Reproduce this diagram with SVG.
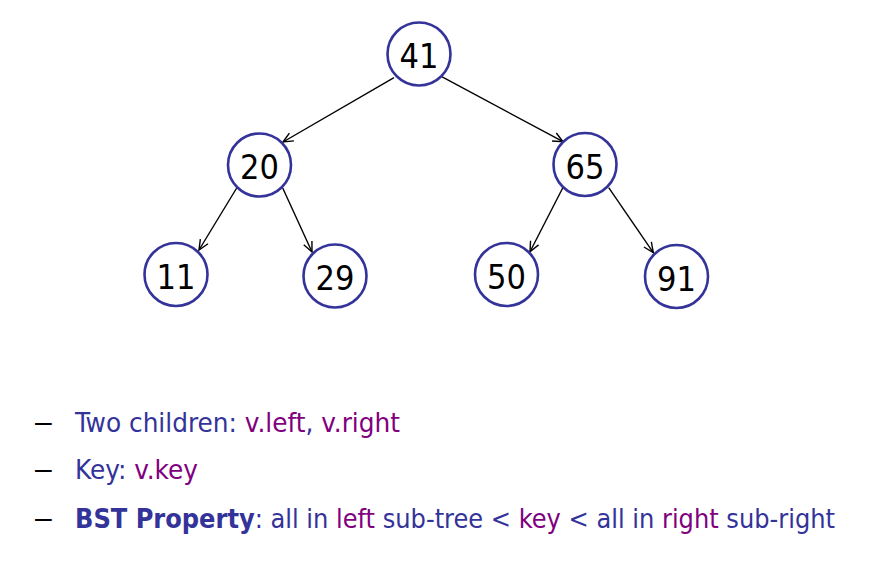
<svg xmlns="http://www.w3.org/2000/svg" width="875" height="562" viewBox="0 0 875 562">
<style>
.node circle{fill:#fff;stroke:#333399;stroke-width:2.6}
.node text{font-family:"DejaVu Sans Condensed","DejaVu Sans",sans-serif;font-stretch:condensed;font-size:34px;fill:#000;text-anchor:middle}
.edge{stroke:#000;stroke-width:1.4;fill:none;marker-end:url(#arr)}
.t{font-family:"DejaVu Sans Condensed","DejaVu Sans",sans-serif;font-stretch:condensed;font-size:27px;fill:#333399}
.p{fill:#800080}
.d{font-family:"Liberation Sans",Arial,sans-serif;font-size:30px;fill:#000}
</style>
<defs>
<marker id="arr" markerUnits="userSpaceOnUse" markerWidth="12" markerHeight="12" viewBox="0 0 12 12" refX="11" refY="6" orient="auto">
<path d="M1,1.5 L11,6 L1,10.5" fill="none" stroke="#000" stroke-width="1.4"/>
</marker>
</defs>
<g id="connectors">
<line class="edge" x1="394" y1="77.7" x2="283" y2="142"/>
<line class="edge" x1="441.7" y1="76.7" x2="563" y2="141.7"/>
<line class="edge" x1="236.7" y1="188" x2="199" y2="250"/>
<line class="edge" x1="282.7" y1="188" x2="312" y2="252"/>
<line class="edge" x1="562.7" y1="188" x2="530" y2="251.7"/>
<line class="edge" x1="608.7" y1="187.7" x2="653.3" y2="252.7"/>
</g>
<g id="n41" class="node"><circle cx="419" cy="54" r="31.5"/><text x="419" y="68">41</text></g>
<g id="n20" class="node"><circle cx="259.5" cy="165" r="31.5"/><text x="259.5" y="179">20</text></g>
<g id="n65" class="node"><circle cx="585" cy="164.5" r="31.5"/><text x="585" y="178.5">65</text></g>
<g id="n11" class="node"><circle cx="176" cy="274.5" r="31.5"/><text x="176" y="288.5">11</text></g>
<g id="n29" class="node"><circle cx="335" cy="276" r="31.5"/><text x="335" y="290">29</text></g>
<g id="n50" class="node"><circle cx="506.5" cy="274.5" r="31.5"/><text x="506.5" y="288.5">50</text></g>
<g id="n91" class="node"><circle cx="676.5" cy="276.5" r="31.5"/><text x="676.5" y="290.5">91</text></g>
<g id="notes">
<text class="d" x="35" y="431.7">–</text>
<text class="d" x="35" y="479.3">–</text>
<text class="d" x="35" y="528.3">–</text>
<text class="t" x="75" y="431.7" textLength="325" lengthAdjust="spacingAndGlyphs">Two children: <tspan class="p">v.left</tspan>, <tspan class="p">v.right</tspan></text>
<text class="t" x="75" y="479.3" textLength="123" lengthAdjust="spacingAndGlyphs">Key: <tspan class="p">v.key</tspan></text>
<text class="t" x="75" y="528.3" textLength="760" lengthAdjust="spacingAndGlyphs"><tspan font-weight="bold">BST Property</tspan>: all in <tspan class="p">left</tspan> sub-tree &lt; <tspan class="p">key</tspan> &lt; all in <tspan class="p">right</tspan> sub-right</text>
</g>
</svg>
